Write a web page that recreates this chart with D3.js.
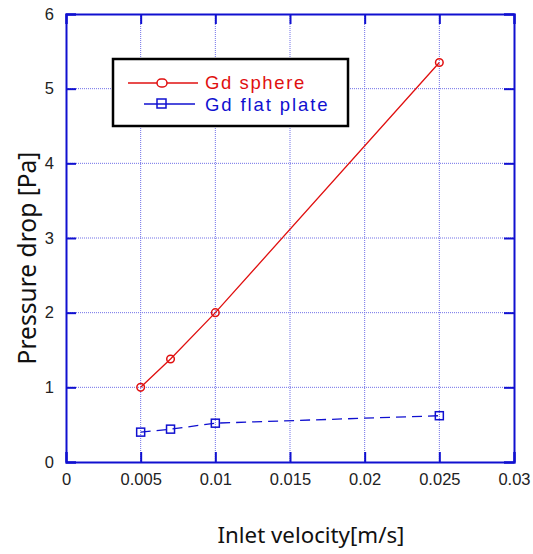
<!DOCTYPE html>
<html><head><meta charset="utf-8">
<script src="https://cdn.jsdelivr.net/npm/d3@7"></script>
<style>body{margin:0;background:#fff;} svg{display:block;}</style>
</head><body>
<script>
const velocity = [0.005, 0.007, 0.01, 0.025];
const sphere = [1.0, 1.38, 2.0, 5.35];
const flatPlate = [0.40, 0.44, 0.52, 0.62];
const xTicks = [0, 0.005, 0.01, 0.015, 0.02, 0.025, 0.03];
const yTicks = [0, 1, 2, 3, 4, 5, 6];
const seriesNames = ["Gd sphere", "Gd flat plate"];

const W = 533, H = 554;
const L = 66, R = 514, T = 14, B = 462;
const svg = d3.select("body").append("svg").attr("width", W).attr("height", H);
const x = d3.scaleLinear().domain([0, 0.03]).range([L, R]);
const y = d3.scaleLinear().domain([0, 6]).range([B, T]);
const blue = "#1010d0", red = "#e01010";

function fitWidth(sel, target) {
  const w = sel.node().getComputedTextLength();
  const fs = parseFloat(sel.attr("font-size"));
  if (w > 0) sel.attr("font-size", fs * target / w);
}

// grid
svg.append("g").selectAll("line").data(xTicks.slice(1, -1)).join("line")
  .attr("x1", d => x(d)).attr("x2", d => x(d)).attr("y1", T).attr("y2", B)
  .attr("stroke", "#7070e8").attr("stroke-width", 1).attr("stroke-dasharray", "1,1");
svg.append("g").selectAll("line").data(yTicks.slice(1, -1)).join("line")
  .attr("y1", d => y(d)).attr("y2", d => y(d)).attr("x1", L).attr("x2", R)
  .attr("stroke", "#7070e8").attr("stroke-width", 1).attr("stroke-dasharray", "1,1");

// axes
const fmt = d => d === 0 ? "0" : String(d);
const axB = svg.append("g").attr("transform", `translate(0,${B})`)
  .call(d3.axisBottom(x).tickValues(xTicks).tickSize(-10).tickPadding(11).tickFormat(fmt));
const axT = svg.append("g").attr("transform", `translate(0,${T})`)
  .call(d3.axisTop(x).tickValues(xTicks).tickSize(-10).tickFormat(""));
const axL = svg.append("g").attr("transform", `translate(${L},0)`)
  .call(d3.axisLeft(y).tickValues(yTicks).tickSize(-10).tickPadding(12).tickFormat(fmt));
const axR = svg.append("g").attr("transform", `translate(${R},0)`)
  .call(d3.axisRight(y).tickValues(yTicks).tickSize(-10).tickFormat(""));
[axB, axT, axL, axR].forEach(g => {
  g.select(".domain").attr("stroke", blue).attr("stroke-width", 2);
  g.selectAll(".tick line").attr("stroke", blue).attr("stroke-width", 2);
  g.selectAll(".tick text").attr("fill", "#222").attr("font-family", "Arial, Liberation Sans, sans-serif").attr("font-size", 16.5);
});

// lines
const pts = (vals) => velocity.map((v, i) => [v, vals[i]]);
const line = d3.line().x(d => x(d[0])).y(d => y(d[1]));
svg.append("path").datum(pts(sphere)).attr("d", line).attr("fill", "none")
  .attr("stroke", red).attr("stroke-width", 1.3);
svg.append("path").datum(pts(flatPlate)).attr("d", line).attr("fill", "none")
  .attr("stroke", blue).attr("stroke-width", 1.3).attr("stroke-dasharray", "10,6");
svg.append("g").selectAll("circle").data(pts(sphere)).join("circle")
  .attr("cx", d => x(d[0])).attr("cy", d => y(d[1])).attr("r", 3.8)
  .attr("fill", "none").attr("stroke", red).attr("stroke-width", 1.5);
svg.append("g").selectAll("rect").data(pts(flatPlate)).join("rect")
  .attr("x", d => x(d[0]) - 4).attr("y", d => y(d[1]) - 4).attr("width", 8).attr("height", 8)
  .attr("fill", "none").attr("stroke", blue).attr("stroke-width", 1.5);

// legend
const lg = svg.append("g");
lg.append("rect").attr("x", 113).attr("y", 59).attr("width", 235).attr("height", 67)
  .attr("fill", "#fff").attr("stroke", "#000").attr("stroke-width", 2.5);
lg.append("line").attr("x1", 128).attr("x2", 198).attr("y1", 83).attr("y2", 83).attr("stroke", red).attr("stroke-width", 1.5);
lg.append("rect").attr("x", 157).attr("y", 79).attr("width", 10).attr("height", 8).attr("rx", 4)
  .attr("fill", "#fff").attr("stroke", red).attr("stroke-width", 1.5);
lg.append("line").attr("x1", 144).attr("x2", 195).attr("y1", 104).attr("y2", 104).attr("stroke", blue).attr("stroke-width", 1.5);
lg.append("rect").attr("x", 157).attr("y", 99).attr("width", 9).attr("height", 9)
  .attr("fill", "#fff").attr("stroke", blue).attr("stroke-width", 1.5);
lg.append("line").attr("x1", 157).attr("x2", 166).attr("y1", 104).attr("y2", 104).attr("stroke", blue).attr("stroke-width", 1.5);
const t1 = lg.append("text").attr("x", 205).attr("y", 89).text(seriesNames[0]).attr("fill", red)
  .attr("font-family", "Arial, Liberation Sans, sans-serif").attr("font-size", 18.5).attr("letter-spacing", 1.6);
const t2 = lg.append("text").attr("x", 205).attr("y", 111).text(seriesNames[1]).attr("fill", blue)
  .attr("font-family", "Arial, Liberation Sans, sans-serif").attr("font-size", 18.5).attr("letter-spacing", 1.9);

// axis titles
const xt = svg.append("text").attr("x", 311).attr("y", 543).attr("text-anchor", "middle")
  .attr("font-family", "Noto Sans, Open Sans, sans-serif").attr("font-size", 20).attr("fill", "#111")
  .text("Inlet velocity[m/s]");
fitWidth(xt, 187);
const yt = svg.append("text").attr("transform", "translate(36,258) rotate(-90)").attr("text-anchor", "middle")
  .attr("font-family", "Noto Sans, Open Sans, sans-serif").attr("font-size", 20).attr("fill", "#111")
  .text("Pressure drop [Pa]");
fitWidth(yt, 213);
</script>
</body></html>
